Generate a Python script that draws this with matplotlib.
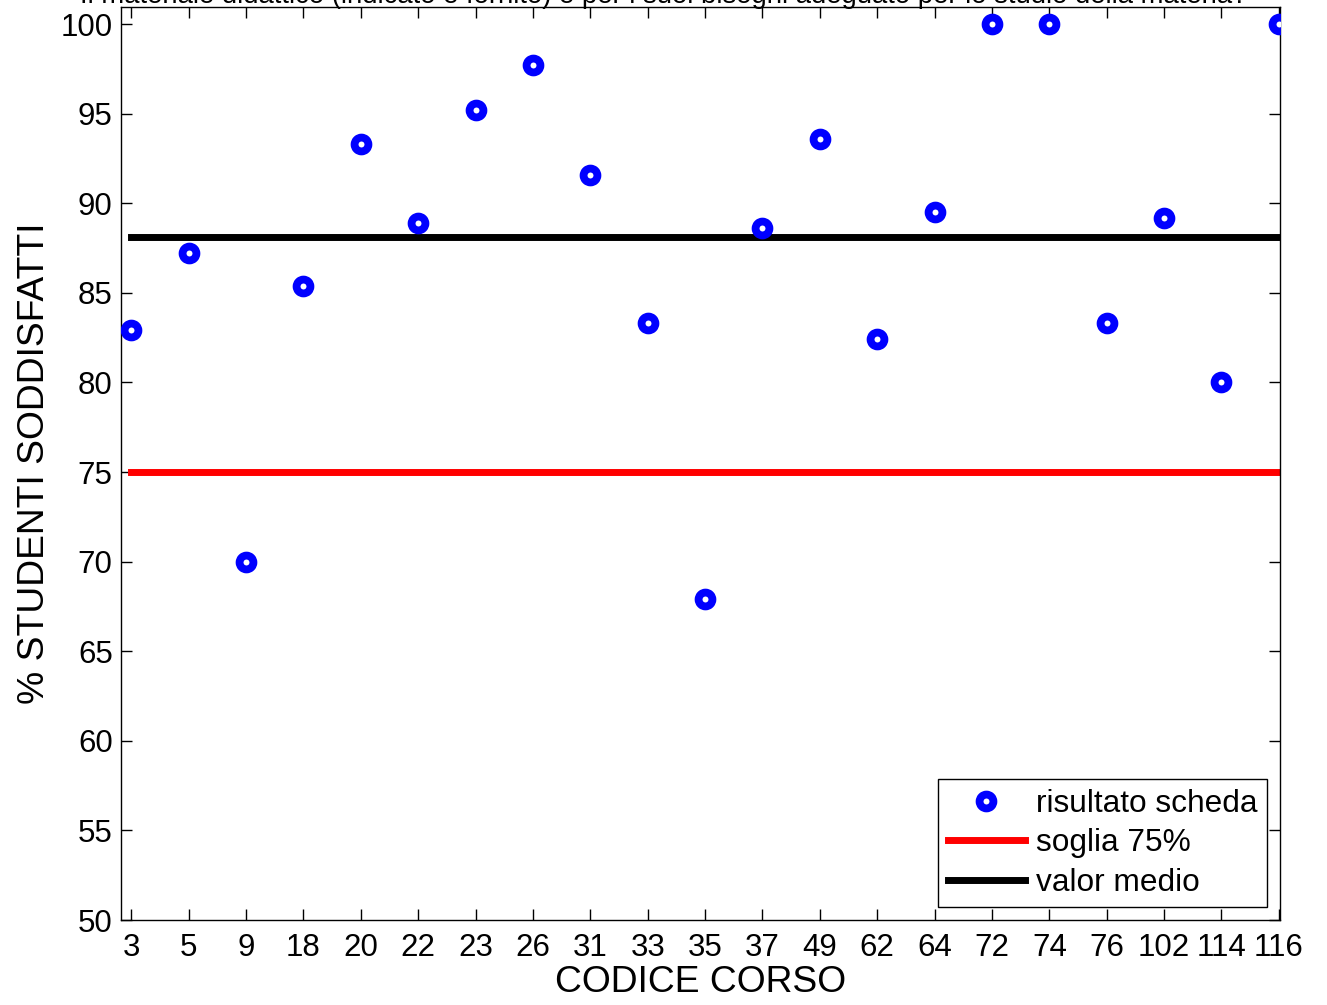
import numpy as np
import matplotlib
matplotlib.use('Agg')
import matplotlib.pyplot as plt

plt.rcParams['font.family'] = ['Liberation Sans', 'DejaVu Sans']

# dati
codici = ['3', '5', '9', '18', '20', '22', '23', '26', '31', '33', '35',
          '37', '49', '62', '64', '72', '74', '76', '102', '114', '116']
risultati = [82.9, 87.2, 70.0, 85.4, 93.3, 88.9, 95.2, 97.7, 91.6, 83.3, 67.9,
             88.6, 93.6, 82.4, 89.5, 100.0, 100.0, 83.3, 89.2, 80.0, 100.0]
soglia = 75
valor_medio = 88.1

titolo = 'Il materiale didattico (indicato e fornito) è per i suoi bisogni adeguato per lo studio della materia?'

x = np.arange(1, len(codici) + 1)

fig = plt.figure(figsize=(13.27, 10.05), dpi=100)
ax = fig.add_axes([121 / 1327, 85 / 1005, 1159 / 1327, 913 / 1005])

ax.plot(x, risultati, 'o', color='blue', markerfacecolor='white',
        markeredgecolor='blue', markersize=10, markeredgewidth=5.6,
        label='risultato scheda', zorder=3)
ax.plot([x[0], x[-1]], [soglia, soglia], color='red', linewidth=5,
        label='soglia 75%')
ax.plot([x[0], x[-1]], [valor_medio, valor_medio], color='black', linewidth=5,
        label='valor medio')

ax.set_xlim(0.82, 21.02)
ax.set_ylim(50, 100.95)
ax.set_xticks(x)
ax.set_xticklabels(codici)
ax.set_yticks(np.arange(50, 101, 5))
ax.tick_params(direction='in', top=True, right=True, length=8, width=1,
               labelsize=22.5)
ax.tick_params(axis='x', pad=9)
ax.tick_params(axis='y', pad=6)
for s in ax.spines.values():
    s.set_linewidth(1.0)

ax.set_xlabel('CODICE CORSO', fontsize=26.8, labelpad=2)
ax.set_ylabel('% STUDENTI SODDISFATTI', fontsize=26.8, labelpad=6)

fig.text(0.5, 1 - 3 / 1005, titolo, ha='center', va='baseline', fontsize=19.8)

leg = ax.legend(loc='lower right', bbox_to_anchor=(0.989, 0.014),
                borderaxespad=0, fontsize=22.8, handlelength=2.45,
                labelspacing=0.3, fancybox=False, edgecolor='black',
                framealpha=1, handletextpad=0.35, borderpad=0.3)
leg.get_frame().set_linewidth(1.0)

fig.savefig('out.png', dpi=100)
